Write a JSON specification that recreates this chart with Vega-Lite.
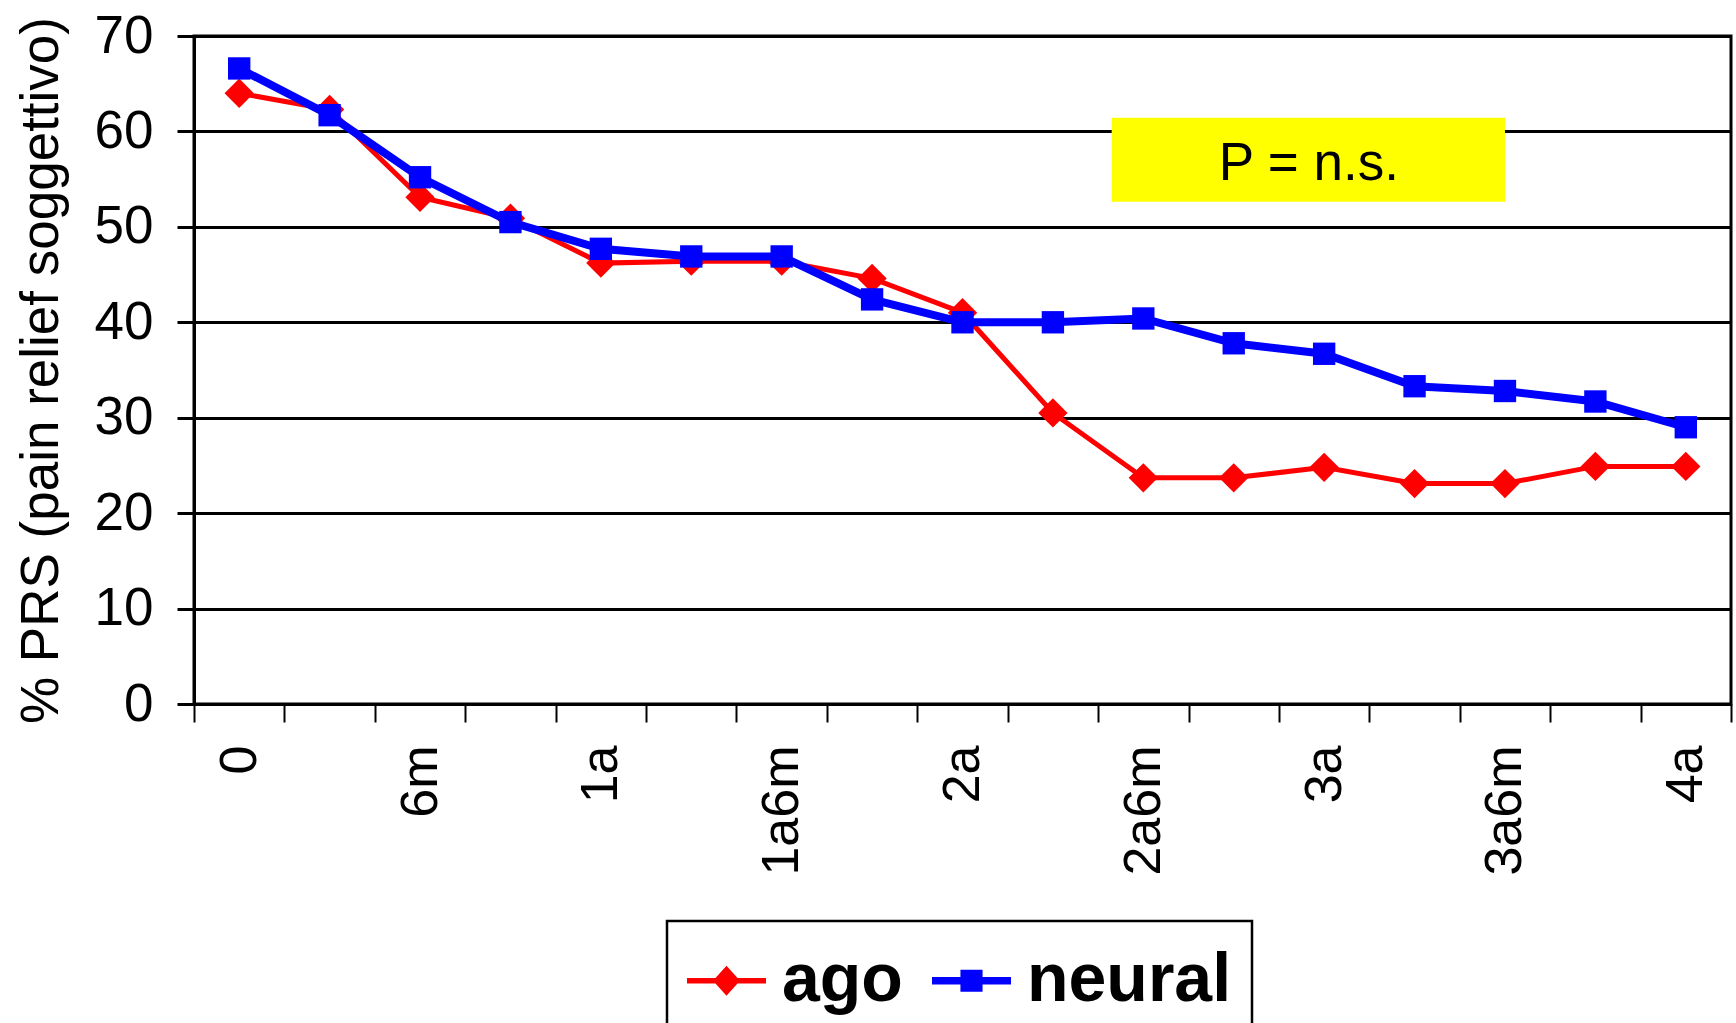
{
  "$schema": "https://vega.github.io/schema/vega-lite/v6.json",
  "width": 1537,
  "height": 668,
  "autosize": {"type": "none"},
  "padding": {"left": 194, "top": 36, "right": 5, "bottom": 319},
  "background": "white",
  "config": {
    "font": "Liberation Sans",
    "view": {"stroke": "black", "strokeWidth": 3},
    "axis": {
      "domainColor": "black",
      "tickColor": "black",
      "labelColor": "black",
      "titleColor": "black",
      "gridColor": "black",
      "gridOpacity": 1,
      "labelFont": "Liberation Sans",
      "titleFont": "Liberation Sans"
    }
  },
  "data": {
    "values": [
      {"t": "0", "serie": "ago", "v": 64.0},
      {"t": "3m", "serie": "ago", "v": 62.3},
      {"t": "6m", "serie": "ago", "v": 53.1},
      {"t": "9m", "serie": "ago", "v": 50.9},
      {"t": "1a", "serie": "ago", "v": 46.2},
      {"t": "1a3m", "serie": "ago", "v": 46.4},
      {"t": "1a6m", "serie": "ago", "v": 46.4},
      {"t": "1a9m", "serie": "ago", "v": 44.6},
      {"t": "2a", "serie": "ago", "v": 41.0},
      {"t": "2a3m", "serie": "ago", "v": 30.5},
      {"t": "2a6m", "serie": "ago", "v": 23.7},
      {"t": "2a9m", "serie": "ago", "v": 23.7},
      {"t": "3a", "serie": "ago", "v": 24.8},
      {"t": "3a3m", "serie": "ago", "v": 23.1},
      {"t": "3a6m", "serie": "ago", "v": 23.1},
      {"t": "3a9m", "serie": "ago", "v": 24.9},
      {"t": "4a", "serie": "ago", "v": 24.9},
      {"t": "0", "serie": "neural", "v": 66.6},
      {"t": "3m", "serie": "neural", "v": 61.7},
      {"t": "6m", "serie": "neural", "v": 55.2},
      {"t": "9m", "serie": "neural", "v": 50.5},
      {"t": "1a", "serie": "neural", "v": 47.7},
      {"t": "1a3m", "serie": "neural", "v": 46.9},
      {"t": "1a6m", "serie": "neural", "v": 46.9},
      {"t": "1a9m", "serie": "neural", "v": 42.4},
      {"t": "2a", "serie": "neural", "v": 40.0},
      {"t": "2a3m", "serie": "neural", "v": 40.0},
      {"t": "2a6m", "serie": "neural", "v": 40.4},
      {"t": "2a9m", "serie": "neural", "v": 37.8},
      {"t": "3a", "serie": "neural", "v": 36.7},
      {"t": "3a3m", "serie": "neural", "v": 33.3},
      {"t": "3a6m", "serie": "neural", "v": 32.8},
      {"t": "3a9m", "serie": "neural", "v": 31.7},
      {"t": "4a", "serie": "neural", "v": 29.0}
    ]
  },
  "layer": [
    {
      "encoding": {
        "x": {
          "field": "t",
          "type": "nominal",
          "bandPosition": 0.5,
          "scale": {
            "type": "band",
            "domain": ["0", "3m", "6m", "9m", "1a", "1a3m", "1a6m", "1a9m", "2a", "2a3m", "2a6m", "2a9m", "3a", "3a3m", "3a6m", "3a9m", "4a"],
            "paddingInner": 0,
            "paddingOuter": 0
          },
          "axis": {
            "title": null,
            "grid": false,
            "tickBand": "extent",
            "labelAngle": 270,
            "labelFontSize": 52,
            "labelPadding": 23,
            "tickSize": 18,
            "tickWidth": 2,
            "domainWidth": 3,
            "labelOverlap": false,
            "labelExpr": "indexof(['0','6m','1a','1a6m','2a','2a6m','3a','3a6m','4a'], datum.value) >= 0 ? datum.value : ''"
          }
        },
        "y": {
          "field": "v",
          "type": "quantitative",
          "scale": {"domain": [0, 70], "nice": false, "zero": true},
          "axis": {
            "title": "% PRS (pain relief soggettivo)",
            "values": [0, 10, 20, 30, 40, 50, 60, 70],
            "grid": true,
            "gridWidth": 3,
            "labelFontSize": 53,
            "labelPadding": 24,
            "tickSize": 17,
            "tickWidth": 3,
            "domainWidth": 3,
            "titleFontSize": 53,
            "titleFontWeight": "normal",
            "titlePadding": 26
          }
        },
        "color": {
          "field": "serie",
          "type": "nominal",
          "scale": {"domain": ["ago", "neural"], "range": ["#FF0000", "#0000FF"]},
          "legend": {
            "title": null,
            "orient": "none",
            "direction": "horizontal",
            "legendX": 473,
            "legendY": 885,
            "padding": 20,
            "symbolSize": 6241,
            "labelFontSize": 68,
            "labelFontWeight": "bold",
            "labelFont": "Liberation Sans",
            "labelColor": "black",
            "labelLimit": 0,
            "labelOffset": 16,
            "columnPadding": 29,
            "strokeColor": "black",
            "fillColor": "white",
            "encode": {
              "symbols": {
                "update": {
                  "shape": {"signal": "datum.value === 'ago' ? 'M-1,-0.072H1V0.072H-1Z M0,-0.38L0.342,0L0,0.38L-0.342,0Z' : 'M-1,-0.097H1V0.097H-1Z M-0.28,-0.28H0.28V0.28H-0.28Z'"},
                  "fill": {"scale": "color", "field": "value"},
                  "stroke": {"value": "transparent"},
                  "strokeWidth": {"value": 0},
                  "opacity": {"value": 1},
                  "size": {"value": 6241}
                }
              },
              "legend": {
                "update": {
                  "stroke": {"value": "black"},
                  "strokeWidth": {"value": 2.5}
                }
              }
            }
          }
        }
      },
      "layer": [
        {
          "transform": [{"filter": "datum.serie === 'ago'"}],
          "mark": {"type": "line", "strokeWidth": 5}
        },
        {
          "transform": [{"filter": "datum.serie === 'ago'"}],
          "mark": {"type": "point", "shape": "diamond", "size": 860, "filled": true, "opacity": 1}
        },
        {
          "transform": [{"filter": "datum.serie === 'neural'"}],
          "mark": {"type": "line", "strokeWidth": 8}
        },
        {
          "transform": [{"filter": "datum.serie === 'neural'"}],
          "mark": {"type": "point", "shape": "square", "size": 500, "filled": true, "opacity": 1}
        }
      ]
    },
    {
      "data": {"values": [{"nota": "P = n.s."}]},
      "layer": [
        {
          "mark": {"type": "rect", "fill": "#FFFF00"},
          "encoding": {
            "x": {"datum": 10.15, "type": "quantitative", "scale": {"domain": [0, 17], "nice": false, "zero": false}, "axis": null},
            "x2": {"datum": 14.5},
            "y": {"datum": 52.64, "type": "quantitative", "scale": {"domain": [0, 70], "nice": false}, "axis": null},
            "y2": {"datum": 61.44}
          }
        },
        {
          "mark": {"type": "text", "font": "Liberation Sans", "fontSize": 53, "color": "black", "align": "center", "baseline": "middle"},
          "encoding": {
            "x": {"datum": 12.33, "type": "quantitative", "scale": {"domain": [0, 17], "nice": false, "zero": false}, "axis": null},
            "y": {"datum": 56.6, "type": "quantitative", "scale": {"domain": [0, 70], "nice": false}, "axis": null},
            "text": {"field": "nota"}
          }
        }
      ]
    }
  ],
  "resolve": {"scale": {"x": "independent", "y": "independent"}}
}
